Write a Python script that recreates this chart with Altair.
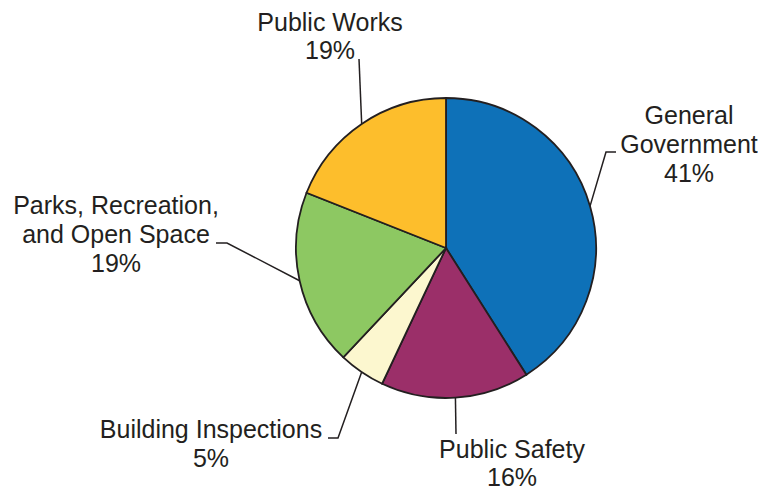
import math
import altair as alt
import pandas as pd

# ---- data ----
categories = ["General Government", "Public Safety", "Building Inspections",
              "Parks, Recreation, and Open Space", "Public Works"]
label_lines = [["General", "Government"], ["Public Safety"], ["Building Inspections"],
               ["Parks, Recreation,", "and Open Space"], ["Public Works"]]
shares = [41, 16, 5, 19, 19]
colors = ["#0E71B8", "#9B2F69", "#FCF7CF", "#8DC862", "#FDBE2C"]

# ---- layout (pixels in chart coordinates) ----
W, H = 750, 484
CX, CY, R = 438, 240, 150
FS = 25
INK = "#231F20"
# (center x, baseline of first line)
label_pos = [(681, 116), (504, 450), (203, 430), (108, 206), (322, 23)]
line_gap = [29, 28, 29, 29, 28]
# leader points from the label side to the elbow (the pie-edge point is computed)
leader_pts = [
    [(608, 144), (598, 144)],
    [(448, 426)],
    [(320, 430), (330, 430)],
    [(208, 235), (219, 235)],
    [(351, 51)],
]

pie = pd.DataFrame({"cat": categories, "share": shares, "idx": list(range(len(shares)))})

# text rows
trows = []
for i, (cat, lines, s) in enumerate(zip(categories, label_lines, shares)):
    x0, y0 = label_pos[i]
    allines = lines + [f"{s}%"]
    for j, t in enumerate(allines):
        trows.append({"cat": cat, "t": t, "px": x0, "py": y0 + j * line_gap[i]})
tdf = pd.DataFrame(trows)

# leader rows (edge point at mid-angle of each slice)
lrows = []
total = sum(shares)
cum = 0
for i, (cat, s) in enumerate(zip(categories, shares)):
    mid = (cum + s / 2) / total * 2 * math.pi
    cum += s
    pts = leader_pts[i] + [(CX + R * math.sin(mid), CY - R * math.cos(mid))]
    for k, (px, py) in enumerate(pts):
        lrows.append({"cat": cat, "k": k, "px": px, "py": py})
ldf = pd.DataFrame(lrows)

xs = alt.X("px:Q", scale=alt.Scale(domain=[0, W], range=[0, W], nice=False, zero=False), axis=None)
ys = alt.Y("py:Q", scale=alt.Scale(domain=[0, H], range=[0, H], nice=False, zero=False), axis=None)

arcs = alt.Chart(pie).mark_arc(outerRadius=R, stroke=INK, strokeWidth=1.8).encode(
    theta=alt.Theta("share:Q", stack=True),
    order=alt.Order("idx:Q"),
    color=alt.Color("cat:N", scale=alt.Scale(domain=categories, range=colors), legend=None),
    x=alt.value(CX),
    y=alt.value(CY),
)

leaders = alt.Chart(ldf).mark_line(color=INK, strokeWidth=1.5).encode(
    x=xs, y=ys, detail="cat:N", order="k:Q"
)

texts = alt.Chart(tdf).mark_text(
    align="center", baseline="alphabetic", fontSize=FS, font="Liberation Sans", color=INK
).encode(x=xs, y=ys, text="t:N")

chart = alt.layer(arcs, leaders, texts).properties(
    width=W, height=H, autosize=alt.AutoSizeParams(type="none"), padding=0
).configure_view(stroke=None)

chart.save("out.html", embed_options={"renderer": "svg", "actions": False})
